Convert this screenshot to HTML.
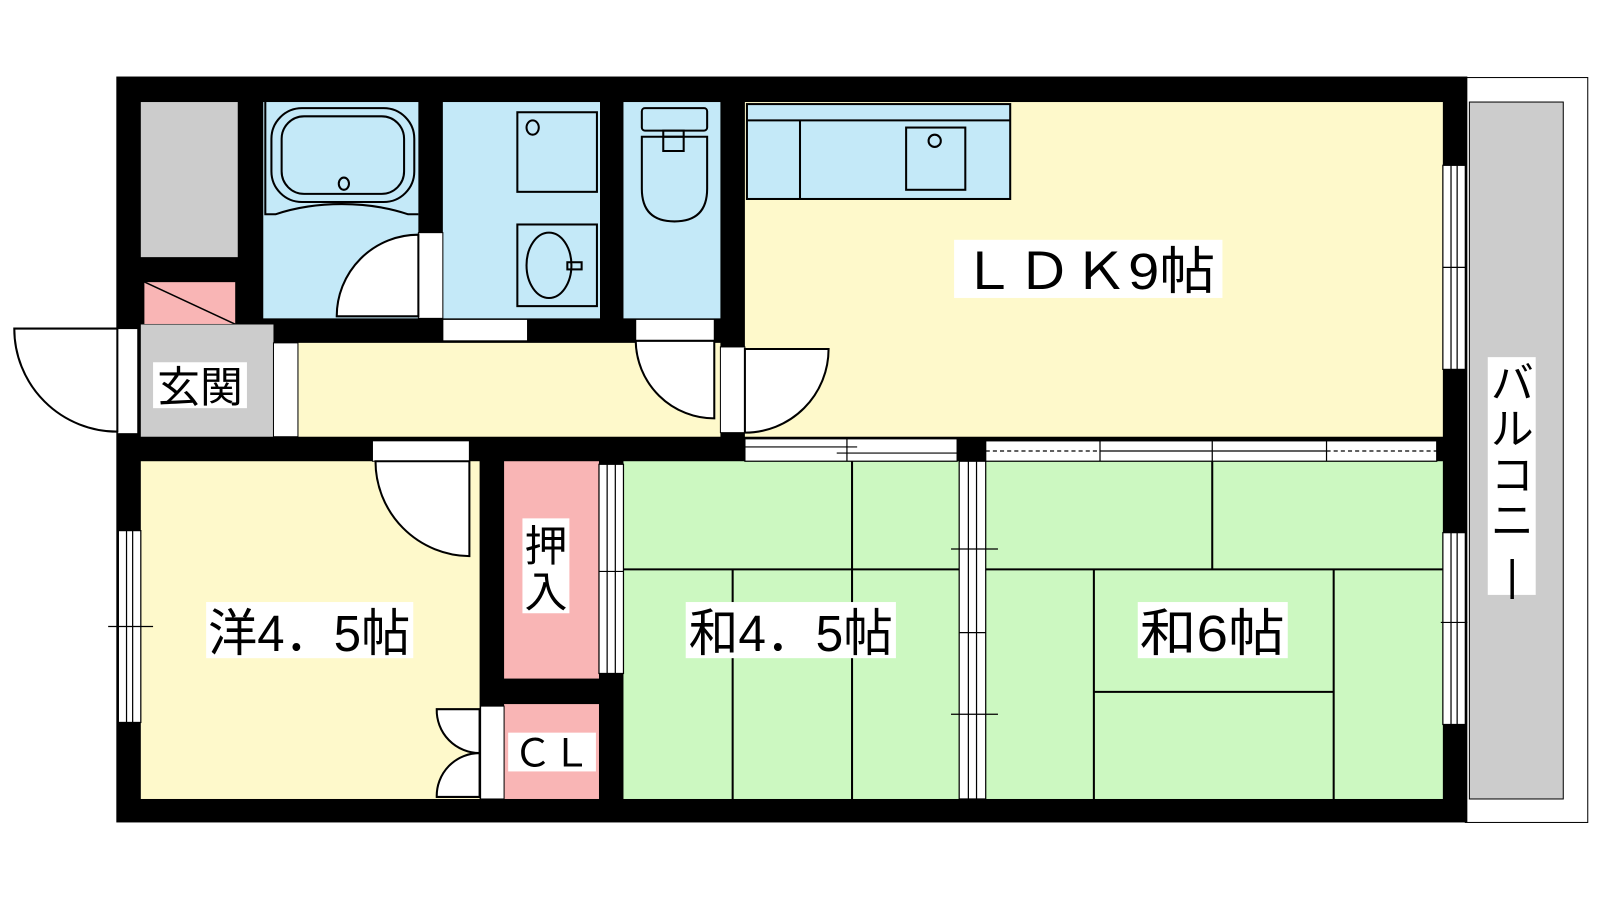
<!DOCTYPE html>
<html><head><meta charset="utf-8"><style>
html,body{margin:0;padding:0;background:#fff;width:1600px;height:900px;overflow:hidden}
svg{display:block}
text{font-family:"Liberation Sans","Noto Sans CJK JP",sans-serif;fill:#000}
</style></head><body>
<svg width="1600" height="900" viewBox="0 0 1568 882" preserveAspectRatio="none" xmlns="http://www.w3.org/2000/svg">
<!-- balcony -->
<rect x="1436" y="76" width="120" height="730" fill="#fff" stroke="#000" stroke-width="1"/>
<rect x="1440" y="100" width="92" height="683" fill="#cccccc" stroke="#000" stroke-width="1"/>
<!-- outer wall -->
<rect x="114" y="75" width="1324" height="731" fill="#000"/>
<!-- rooms -->
<rect x="138" y="100" width="95" height="152" fill="#cccccc"/>
<rect x="141" y="276" width="90" height="42" fill="#f9b5b5" stroke="#000" stroke-width="1"/>
<line x1="141" y1="276" x2="231" y2="318" stroke="#000" stroke-width="1.5"/>
<rect x="138" y="318" width="130" height="110" fill="#cccccc"/>
<rect x="258" y="100" width="152" height="212" fill="#c4e9f8"/>
<rect x="434" y="100" width="154" height="212" fill="#c4e9f8"/>
<rect x="611" y="100" width="95" height="212" fill="#c4e9f8"/>
<rect x="292" y="336" width="414" height="92" fill="#fef9cb"/>
<rect x="730" y="100" width="684" height="328" fill="#fef9cb"/>
<rect x="138" y="452" width="332" height="331" fill="#fef9cb"/>
<rect x="494" y="452" width="93" height="213" fill="#f9b5b5"/>
<rect x="494" y="690" width="93" height="93" fill="#f9b5b5"/>
<rect x="611" y="452" width="329" height="331" fill="#ccf8c1"/>
<rect x="966" y="452" width="448" height="331" fill="#ccf8c1"/>
<!-- bath fixtures -->
<g fill="none" stroke="#000" stroke-width="2">
<path d="M260 100 V210 H270 Q300 200 335 200 Q370 200 400 210 H410"/>
<rect x="266" y="106" width="140" height="92" rx="30"/>
<rect x="276" y="114" width="120" height="76" rx="22"/>
<ellipse cx="337" cy="180" rx="5" ry="6"/>
<rect x="507" y="110" width="78" height="78"/>
<ellipse cx="522" cy="125" rx="6" ry="7"/>
<rect x="507" y="220" width="78" height="80"/>
<ellipse cx="538" cy="260" rx="22" ry="32"/>
<rect x="556" y="257" width="14" height="7"/>
<rect x="629" y="106" width="64" height="22" rx="3"/>
<rect x="650" y="128" width="20" height="6"/>
<path d="M629 134 H693 V185 Q693 217 661 217 Q629 217 629 185 Z"/>
<path d="M650 134 V148 H670 V134"/>
<!-- kitchen -->
<rect x="732" y="102" width="258" height="93" fill="#c4e9f8"/>
<line x1="732" y1="118" x2="990" y2="118"/>
<line x1="784" y1="118" x2="784" y2="195"/>
<rect x="888" y="125" width="58" height="61"/>
<circle cx="916" cy="138" r="6"/>
</g>
<!-- door openings -->
<g fill="#fff" stroke="#000" stroke-width="1">
<rect x="410" y="228" width="24" height="84"/>
<rect x="434" y="313" width="83" height="21"/>
<rect x="623" y="313" width="77" height="21"/>
<rect x="268" y="336" width="24" height="92"/>
<rect x="115" y="322" width="20" height="103"/>
<rect x="706" y="340" width="24" height="84"/>
<rect x="365" y="432" width="95" height="20"/>
<rect x="471" y="692" width="23" height="91"/>
</g>
<g fill="#fff" stroke="#000" stroke-width="2">
<path d="M410 310 H330 A80 80 0 0 1 410 230 Z"/>
<path d="M700 334 V410 A77 77 0 0 1 623 334 Z"/>
<path d="M730 342 H812 A82 82 0 0 1 730 424 Z"/>
<path d="M115 322 H14 A101 101 0 0 0 115 423 Z"/>
<path d="M460 452 V545 A93 93 0 0 1 368 452 Z"/>
<path d="M470 738 A42 42 0 0 1 428 695 H470 Z"/>
<path d="M470 738 A42 42 0 0 0 428 781 H470 Z"/>
</g>
<!-- windows -->
<g fill="#fff" stroke="#000" stroke-width="1.2">
<rect x="1414" y="162" width="22" height="200"/>
<line x1="1422" y1="162" x2="1422" y2="362"/><line x1="1428" y1="162" x2="1428" y2="362"/>
<line x1="1414" y1="262" x2="1436" y2="262"/>
<rect x="1414" y="522" width="22" height="188"/>
<line x1="1422" y1="522" x2="1422" y2="710"/><line x1="1428" y1="522" x2="1428" y2="710"/>
<line x1="1412" y1="610" x2="1438" y2="610"/>
<rect x="116" y="520" width="22" height="188"/>
<line x1="124" y1="520" x2="124" y2="708"/><line x1="130" y1="520" x2="130" y2="708"/>
<line x1="106" y1="614" x2="150" y2="614"/>
<rect x="587" y="455" width="24" height="205"/>
<line x1="595" y1="455" x2="595" y2="660"/><line x1="603" y1="455" x2="603" y2="660"/>
<line x1="587" y1="560" x2="611" y2="560"/>
<rect x="940" y="452" width="26" height="331"/>
<line x1="949" y1="452" x2="949" y2="783"/><line x1="957" y1="452" x2="957" y2="783"/>
<line x1="932" y1="538" x2="978" y2="538"/><line x1="932" y1="700" x2="978" y2="700"/><line x1="940" y1="620" x2="966" y2="620"/>
<rect x="730" y="430" width="208" height="22"/>
<line x1="730" y1="438" x2="840" y2="438"/><line x1="820" y1="444" x2="938" y2="444"/>
<line x1="830" y1="430" x2="830" y2="452"/>
<rect x="966" y="432" width="442" height="20"/>
<line x1="966" y1="442" x2="1078" y2="442" stroke-dasharray="4 3"/>
<line x1="1300" y1="442" x2="1408" y2="442" stroke-dasharray="4 3"/>
<line x1="1078" y1="442" x2="1300" y2="442"/>
<line x1="1078" y1="432" x2="1078" y2="452"/><line x1="1188" y1="432" x2="1188" y2="452"/><line x1="1300" y1="432" x2="1300" y2="452"/>
</g>
<!-- tatami lines -->
<g stroke="#000" stroke-width="2" fill="none">
<line x1="835" y1="452" x2="835" y2="783"/>
<line x1="611" y1="558" x2="940" y2="558"/>
<line x1="718" y1="558" x2="718" y2="783"/>
<line x1="966" y1="558" x2="1414" y2="558"/>
<line x1="1188" y1="452" x2="1188" y2="558"/>
<line x1="1072" y1="558" x2="1072" y2="783"/>
<line x1="1307" y1="558" x2="1307" y2="783"/>
<line x1="1072" y1="678" x2="1307" y2="678"/>
</g>
<!-- labels -->
<g fill="#fff">
<rect x="935" y="235" width="263" height="57"/>
<rect x="150" y="355" width="92" height="45"/>
<rect x="202" y="590" width="203" height="55"/>
<rect x="512" y="508" width="46" height="93"/>
<rect x="498" y="718" width="86" height="38"/>
<rect x="672" y="590" width="206" height="55"/>
<rect x="1115" y="590" width="147" height="55"/>
<rect x="1458" y="350" width="47" height="233"/>
</g>
<text x="1066" y="283" font-size="50" text-anchor="middle" textLength="250" lengthAdjust="spacingAndGlyphs">ＬＤＫ9帖</text>
<text x="196" y="394" font-size="42" text-anchor="middle">玄関</text>
<text x="303" y="638" font-size="50" text-anchor="middle" textLength="198" lengthAdjust="spacingAndGlyphs">洋4．5帖</text>
<text x="535" y="550" font-size="42" text-anchor="middle">押</text>
<text x="535" y="595" font-size="42" text-anchor="middle">入</text>
<text x="541" y="751" font-size="38" text-anchor="middle">ＣＬ</text>
<text x="775" y="638" font-size="50" text-anchor="middle" textLength="200" lengthAdjust="spacingAndGlyphs">和4．5帖</text>
<text x="1188" y="638" font-size="50" text-anchor="middle" textLength="142" lengthAdjust="spacingAndGlyphs">和6帖</text>
<g font-size="42" text-anchor="middle">
<text x="1482" y="390">バ</text>
<text x="1482" y="435">ル</text>
<text x="1482" y="480">コ</text>
<text x="1482" y="525">ニ</text>
<text x="1482" y="578">|</text>
</g>
</svg>
</body></html>
